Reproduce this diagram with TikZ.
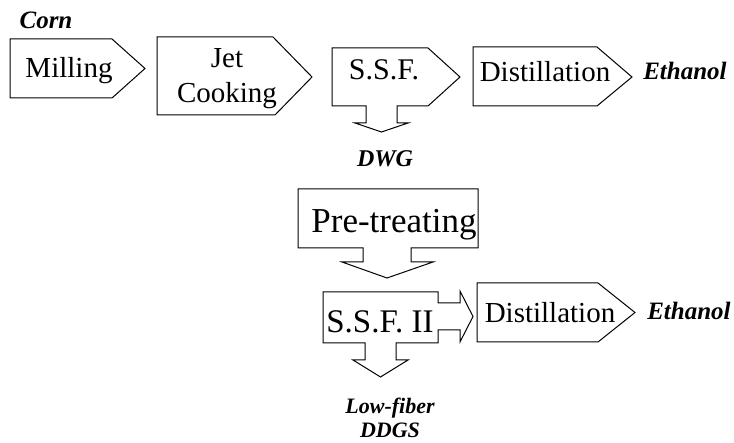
\documentclass[tikz,border=0pt]{standalone}
\usepackage{fontspec}
\setmainfont{Liberation Serif}
\usepackage{tikz}

\tikzset{
  box/.style={line width=1pt, line join=miter},
  proc/.style={anchor=base, inner sep=0pt, font=\fontsize{29}{35}\selectfont},
  prod/.style={anchor=base, inner sep=0pt, font=\fontsize{25}{25}\selectfont\bfseries\itshape}
}

\begin{document}
\begin{tikzpicture}[x=1pt,y=-1pt]
  \useasboundingbox (0,0) rectangle (734,443);
  % first row
  \draw[box] (10,39)--(112,39)--(145,68.5)--(112,98)--(10,98)--cycle;
  \draw[box] (157,37)--(273,37)--(312,77)--(275,115)--(157,115)--cycle;
  \draw[box] (332,48)--(428,48)--(460,77)--(428,106)--(397,106)--(397,123)--(408,123)
             --(381.5,132)--(355,123)--(366,123)--(366,106)--(332,106)--cycle;
  \draw[box] (473,47)--(597,47)--(632,77)--(597,106)--(473,106)--cycle;
  \node[prod] (corn) at (46,29) {Corn};
  \node[proc] (milling) at (69,78) {Milling};
  \node[proc,align=center] (jet) at (227,103) {Jet\\Cooking};
  \node[proc,font=\fontsize{30}{35}\selectfont] (ssf) at (384,80) {S.S.F.};
  \node[proc] (dist) at (545,82) {Distillation};
  \node[prod] (ethanol) at (685,80) {Ethanol};
  \node[prod,font=\fontsize{24}{25}\selectfont\bfseries\itshape] (dwg) at (385,167) {DWG};
  % second part
  \draw[box] (298,189)--(478,189)--(478,248)--(411,248)--(411,262)--(433,262)--(387,278)
             --(342,262)--(363,262)--(363,248)--(298,248)--cycle;
  \draw[box] (323,292)--(438,292)--(438,303)--(460,303)--(460,291)--(473,316.5)--(460,342)
             --(460,330)--(438,330)--(438,343)--(396,343)--(396,360)--(408,360)--(380.5,377)
             --(353,360)--(365,360)--(365,343)--(323,343)--cycle;
  \draw[box] (477,283)--(598,283)--(635,312.5)--(598,342)--(477,342)--cycle;
  \node[proc,font=\fontsize{35}{40}\selectfont] (pretreat) at (394,233) {Pre-treating};
  \node[proc,font=\fontsize{33}{38}\selectfont] (ssfii) at (380,333) {S.S.F. II};
  \node[proc] (distii) at (550,323) {Distillation};
  \node[prod] (ethanolii) at (689,320) {Ethanol};
  \node[prod,align=center,font=\fontsize{22}{24}\selectfont\bfseries\itshape] (ddgs) at (390,438) {Low-fiber\\DDGS};
\end{tikzpicture}
\end{document}
